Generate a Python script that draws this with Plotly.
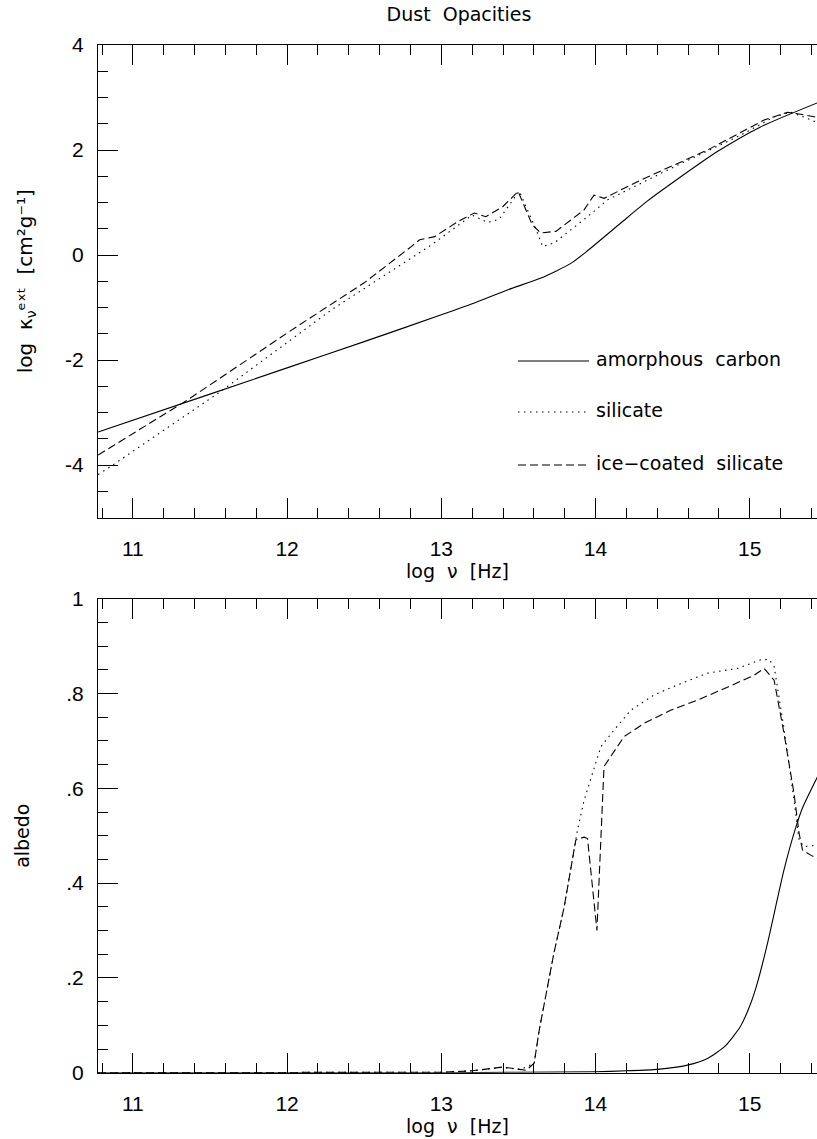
import plotly.graph_objects as go

# ---------------- data ----------------
# Top panel: log extinction opacity vs log frequency
carbon_kappa_x = [10.775, 11.5, 12.0, 12.5, 13.0, 13.2, 13.424, 13.646, 13.84, 13.948,
                  14.164, 14.337, 14.51, 14.79, 15.07, 15.44]
carbon_kappa_y = [-3.37, -2.65, -2.15, -1.65, -1.14, -0.93, -0.67, -0.44, -0.16, 0.08,
                  0.61, 1.03, 1.40, 1.97, 2.44, 2.90]

silicate_kappa_x = [10.775, 10.85, 11.574, 12.29, 12.94, 13.11, 13.20, 13.30, 13.375, 13.505,
                    13.624, 13.657, 13.732, 13.948, 14.078, 14.51, 14.94, 15.157, 15.266,
                    15.374, 15.44]
silicate_kappa_y = [-4.18, -4.04, -2.59, -1.04, 0.20, 0.57, 0.76, 0.62, 0.68, 1.22,
                    0.42, 0.16, 0.23, 0.73, 1.05, 1.68, 2.28, 2.63, 2.72,
                    2.60, 2.52]

ice_kappa_x = [10.775, 11.36, 12.07, 12.50, 12.805, 12.86, 12.957, 13.11, 13.213, 13.289,
               13.398, 13.498, 13.59, 13.645, 13.743, 13.926, 13.99, 14.056, 14.294, 14.726,
               15.093, 15.244, 15.33, 15.44]
ice_kappa_y = [-3.81, -2.75, -1.35, -0.53, 0.16, 0.29, 0.35, 0.64, 0.80, 0.73,
               0.92, 1.21, 0.575, 0.42, 0.45, 0.86, 1.14, 1.08, 1.43, 2.00,
               2.57, 2.72, 2.68, 2.62]

# Bottom panel: albedo vs log frequency
carbon_albedo_x = [10.775, 13.0, 13.5, 14.0, 14.2, 14.40, 14.596, 14.726, 14.84, 14.94,
                   15.006, 15.05, 15.115, 15.222, 15.30, 15.345, 15.44]
carbon_albedo_y = [0.0, 0.0, 0.001, 0.002, 0.004, 0.007, 0.016, 0.030, 0.056, 0.098,
                   0.146, 0.19, 0.273, 0.428, 0.519, 0.561, 0.625]

silicate_albedo_x = [10.775, 12.8, 13.0, 13.2, 13.386, 13.516, 13.602, 13.635, 13.73, 13.797,
                     13.883, 13.926, 13.98, 14.035, 14.12, 14.23, 14.38, 14.53, 14.726,
                     14.92, 15.07, 15.125, 15.158, 15.22, 15.287, 15.32, 15.352, 15.44]
silicate_albedo_y = [0.0, 0.0, 0.001, 0.004, 0.011, 0.007, 0.02, 0.09, 0.252, 0.35,
                     0.512, 0.575, 0.632, 0.688, 0.723, 0.765, 0.797, 0.818, 0.843,
                     0.853, 0.871, 0.872, 0.857, 0.73, 0.575, 0.49, 0.477, 0.48]

ice_albedo_x = [10.775, 13.0, 13.2, 13.4, 13.55, 13.602, 13.635, 13.73, 13.797, 13.872,
                13.926, 13.948, 14.009, 14.055, 14.185, 14.315, 14.49, 14.66, 14.855,
                15.03, 15.093, 15.158, 15.222, 15.287, 15.32, 15.342, 15.395, 15.44]
ice_albedo_y = [0.0, 0.001, 0.004, 0.012, 0.005, 0.02, 0.09, 0.252, 0.35, 0.491,
                0.497, 0.494, 0.30, 0.646, 0.709, 0.737, 0.765, 0.786, 0.813,
                0.839, 0.853, 0.828, 0.716, 0.589, 0.505, 0.47, 0.459, 0.452]

series_names = ["amorphous  carbon", "silicate", "ice\u2212coated  silicate"]

x_tickvals = [11, 12, 13, 14, 15]
x_ticktext = ["11", "12", "13", "14", "15"]
kappa_tickvals = [-4, -2, 0, 2, 4]
kappa_ticktext = ["-4", "-2", "0", "2", "4"]
albedo_tickvals = [0, 0.2, 0.4, 0.6, 0.8, 1.0]
albedo_ticktext = ["0", ".2", ".4", ".6", ".8", "1"]

# ---------------- styling ----------------
W, H = 817, 1139
X_RANGE = [10.774, 15.436]
DASH_STYLES = ["solid", "1.5px,4.5px", "8px,4px"]
LINE_SHAPES = ["spline", "linear", "linear"]
LINE_W = 1.1
TICK_FONT = dict(family="Liberation Sans Narrow, Liberation Sans, Arial, sans-serif",
                 size=21, color="black")
TEXT_FONT = dict(family="DejaVu Sans, sans-serif", size=19, color="black")


def px_x(p):
    return p / W


def px_y(p):
    return 1 - p / H


fig = go.Figure()

top_series = [(carbon_kappa_x, carbon_kappa_y), (silicate_kappa_x, silicate_kappa_y),
              (ice_kappa_x, ice_kappa_y)]
bot_series = [(carbon_albedo_x, carbon_albedo_y), (silicate_albedo_x, silicate_albedo_y),
              (ice_albedo_x, ice_albedo_y)]

for (xs, ys), name, dash, shp in zip(top_series, series_names, DASH_STYLES, LINE_SHAPES):
    fig.add_trace(go.Scatter(x=xs, y=ys, mode="lines", name=name, xaxis="x", yaxis="y",
                             line=dict(color="black", width=LINE_W, dash=dash, shape=shp,
                                       smoothing=0.6),
                             showlegend=False))
for (xs, ys), name, dash, shp in zip(bot_series, series_names, DASH_STYLES, LINE_SHAPES):
    fig.add_trace(go.Scatter(x=xs, y=ys, mode="lines", name=name, xaxis="x2", yaxis="y2",
                             line=dict(color="black", width=LINE_W, dash=dash, shape=shp,
                                       smoothing=0.6),
                             showlegend=False))

x_dom = [px_x(98), 1.0]
top_dom = [px_y(517.5), px_y(45)]
bot_dom = [px_y(1072.7), px_y(598.7)]

X_TITLE = "log  \u03bd  [Hz]"
KAPPA_TITLE = "log  \u03ba<sub>\u03bd</sub>\u1d49\u02e3\u1d57  [cm\u00b2g\u207b\u00b9]"
ALBEDO_TITLE = "albedo"

common_x = dict(range=X_RANGE, domain=x_dom, showline=True, linecolor="black", linewidth=1,
                mirror="ticks", ticks="inside", ticklen=20, tickcolor="black", tickwidth=1,
                tickvals=x_tickvals, ticktext=x_ticktext, tickfont=TICK_FONT,
                ticklabelstandoff=12, showgrid=False, zeroline=False, automargin=False,
                title=dict(text=X_TITLE, font=TEXT_FONT, standoff=4),
                minor=dict(tickmode="linear", tick0=0, dtick=0.2, ticks="inside",
                           ticklen=10, tickcolor="black", tickwidth=1, showgrid=False))

common_y = dict(showline=True, linecolor="black", linewidth=1, mirror=False,
                ticks="inside", ticklen=20, tickcolor="black", tickwidth=1,
                tickfont=TICK_FONT, ticklabelstandoff=9, showgrid=False, zeroline=False,
                automargin=False)

right_y = dict(side="right", showline=False, ticks="inside", ticklen=14, tickcolor="black",
               tickwidth=1, showticklabels=False, showgrid=False, zeroline=False,
               automargin=False)

fig.update_layout(
    width=W, height=H, autosize=False,
    margin=dict(l=0, r=0, t=0, b=0, autoexpand=False),
    paper_bgcolor="white", plot_bgcolor="white",
    showlegend=False,
    title=dict(text="Dust  Opacities", font=TEXT_FONT, x=px_x(459), y=px_y(14),
               xref="paper", yref="paper", xanchor="center", yanchor="middle"),
    xaxis=dict(anchor="y", **common_x),
    xaxis2=dict(anchor="y2", **common_x),
    yaxis=dict(anchor="x", domain=top_dom, range=[-5, 4], tickvals=kappa_tickvals,
               ticktext=kappa_ticktext,
               title=dict(text=KAPPA_TITLE, font=dict(TEXT_FONT, size=20), standoff=27),
               minor=dict(tickmode="linear", tick0=0, dtick=0.5, ticks="inside", ticklen=10,
                          tickcolor="black", tickwidth=1, showgrid=False),
               **common_y),
    yaxis2=dict(anchor="x2", domain=bot_dom, range=[0, 1], tickvals=albedo_tickvals,
                ticktext=albedo_ticktext,
                title=dict(text=ALBEDO_TITLE, font=TEXT_FONT, standoff=31),
                minor=dict(tickmode="linear", tick0=0, dtick=0.05, ticks="inside", ticklen=10,
                           tickcolor="black", tickwidth=1, showgrid=False),
                **common_y),
    yaxis3=dict(anchor="x", overlaying="y", domain=top_dom, range=[-5, 4],
                tickvals=kappa_tickvals,
                minor=dict(tickmode="linear", tick0=0, dtick=0.5, ticks="inside", ticklen=4,
                           tickcolor="black", tickwidth=1, showgrid=False),
                **right_y),
    yaxis4=dict(anchor="x2", overlaying="y2", domain=bot_dom, range=[0, 1],
                tickvals=albedo_tickvals,
                minor=dict(tickmode="linear", tick0=0, dtick=0.05, ticks="inside", ticklen=4,
                           tickcolor="black", tickwidth=1, showgrid=False),
                **right_y),
)

# legend drawn as sample lines with labels
legend_rows_px = [361, 412, 465]
for name, dash, ry in zip(series_names, DASH_STYLES, legend_rows_px):
    fig.add_shape(type="line", xref="paper", yref="paper",
                  x0=px_x(518), x1=px_x(589), y0=px_y(ry), y1=px_y(ry),
                  line=dict(color="black", width=LINE_W, dash=dash))
    fig.add_annotation(xref="paper", yref="paper", showarrow=False, text=name,
                       x=px_x(594), y=px_y(ry - 2), xanchor="left", yanchor="middle",
                       font=TEXT_FONT)

fig.write_html("out.html")
